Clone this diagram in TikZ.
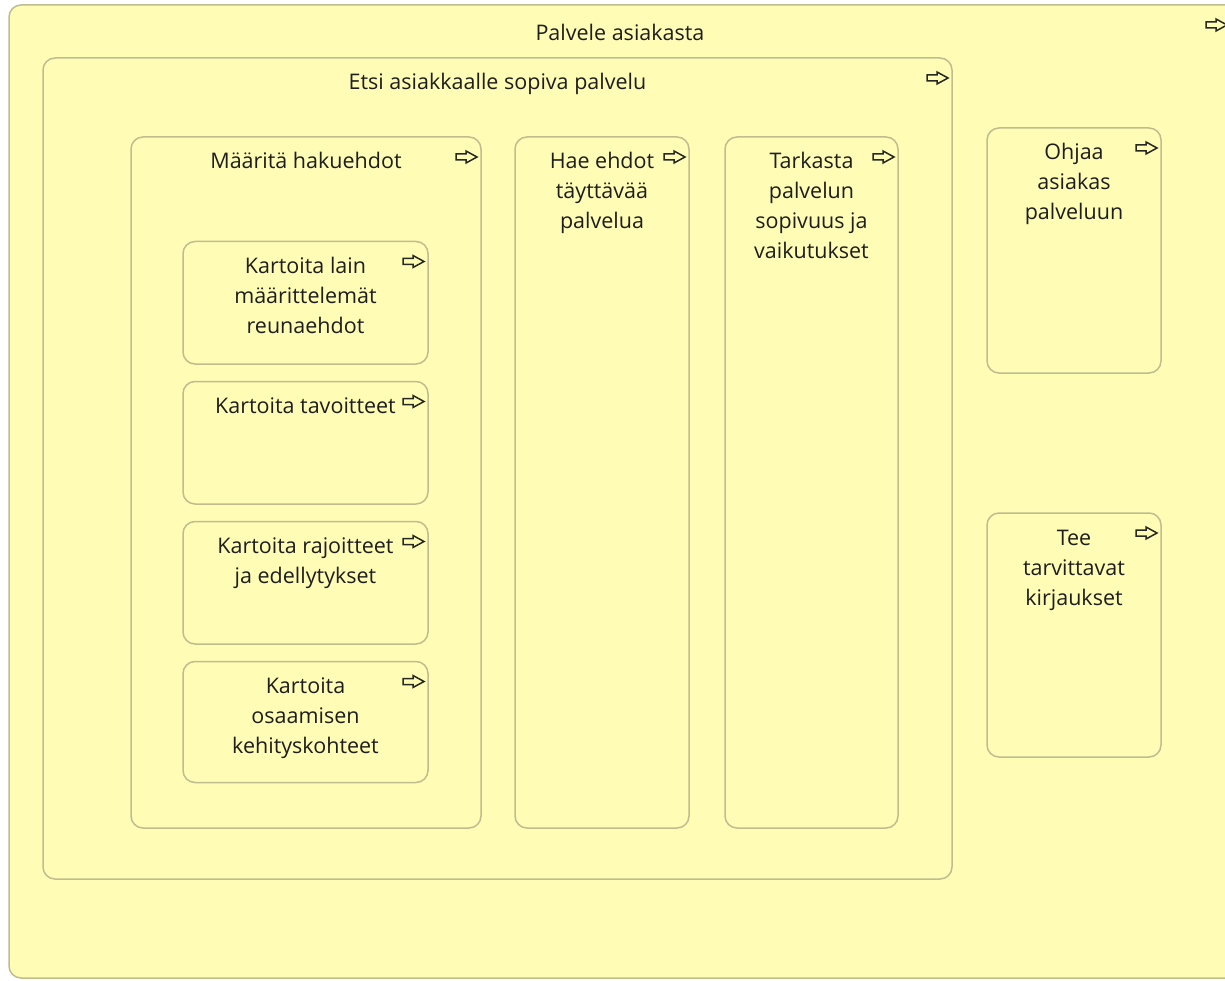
\documentclass[tikz,border=0pt]{standalone}
\usepackage{fontspec}
\setmainfont{Open Sans}
\definecolor{boxfill}{RGB}{255,252,181}
\definecolor{boxline}{RGB}{192,188,142}
\definecolor{txt}{RGB}{30,30,30}
\definecolor{iconline}{RGB}{40,40,35}
\tikzset{
  abox/.style={draw=boxline, fill=boxfill, line width=1.5pt, rounded corners=12pt,
    anchor=north west, inner sep=0pt, outer sep=0pt},
  lbl/.style={anchor=north, inner sep=0pt, outer sep=0pt, align=center, text=txt,
    font=\fontsize{21.5}{30}\selectfont},
  icon/.style={draw=iconline, fill=boxfill, line width=1.5pt, line join=miter},
}
\newcommand\acticon[1]{%
  \draw[icon] ([shift={(-25pt,-17pt)}]#1) -- ++(10pt,0pt) -- ++(0pt,3pt)
    -- ++(11pt,-6pt) -- ++(-11pt,-6pt) -- ++(0pt,3pt) -- ++(-10pt,0pt) -- cycle;}
\begin{document}
\begin{tikzpicture}[x=1pt,y=-1pt]
\useasboundingbox (0,0) rectangle (1225,981);
% boxes
\node[abox, minimum width=1240pt, minimum height=973pt] (outer) at (9,5) {};
\coordinate (outerne) at (1231,5);
\node[abox, minimum width=909pt, minimum height=821pt] (etsi) at (43,58) {};
\node[abox, minimum width=350pt, minimum height=691pt] (maar) at (131,137) {};
\node[abox, minimum width=245pt, minimum height=122.5pt] (k1) at (183,241.5) {};
\node[abox, minimum width=245pt, minimum height=122.5pt] (k2) at (183,381.5) {};
\node[abox, minimum width=245pt, minimum height=122.5pt] (k3) at (183,521.5) {};
\node[abox, minimum width=245pt, minimum height=121pt] (k4) at (183,661.5) {};
\node[abox, minimum width=174pt, minimum height=691pt] (hae) at (515,137) {};
\node[abox, minimum width=173pt, minimum height=691pt] (tark) at (725,137) {};
\node[abox, minimum width=174pt, minimum height=245pt] (ohj) at (987,128) {};
\node[abox, minimum width=174pt, minimum height=244pt] (tee) at (987,513) {};
% labels
\node[lbl] (touter) at (620,20) {\strut Palvele asiakasta};
\node[lbl] (tetsi) at ([yshift=-11pt]etsi.north) {\strut Etsi asiakkaalle sopiva palvelu};
\node[lbl] (tmaar) at ([yshift=-11pt]maar.north) {\strut Määritä hakuehdot};
\node[lbl] (tk1) at ([yshift=-11pt]k1.north) {\strut Kartoita lain\\määrittelemät\\reunaehdot};
\node[lbl] (tk2) at ([yshift=-11pt]k2.north) {\strut Kartoita tavoitteet};
\node[lbl] (tk3) at ([yshift=-11pt]k3.north) {\strut Kartoita rajoitteet\\ja edellytykset};
\node[lbl] (tk4) at ([yshift=-11pt]k4.north) {\strut Kartoita\\osaamisen\\kehityskohteet};
\node[lbl] (thae) at ([yshift=-11pt]hae.north) {\strut Hae ehdot\\täyttävää\\palvelua};
\node[lbl] (ttark) at ([yshift=-11pt]tark.north) {\strut Tarkasta\\palvelun\\sopivuus ja\\vaikutukset};
\node[lbl] (tohj) at ([yshift=-11pt]ohj.north) {\strut Ohjaa\\asiakas\\palveluun};
\node[lbl] (ttee) at ([yshift=-11pt]tee.north) {\strut Tee\\tarvittavat\\kirjaukset};
% icons
\acticon{outerne}
\acticon{etsi.north east}
\acticon{maar.north east}
\acticon{k1.north east}
\acticon{k2.north east}
\acticon{k3.north east}
\acticon{k4.north east}
\acticon{hae.north east}
\acticon{tark.north east}
\acticon{ohj.north east}
\acticon{tee.north east}
\end{tikzpicture}
\end{document}
